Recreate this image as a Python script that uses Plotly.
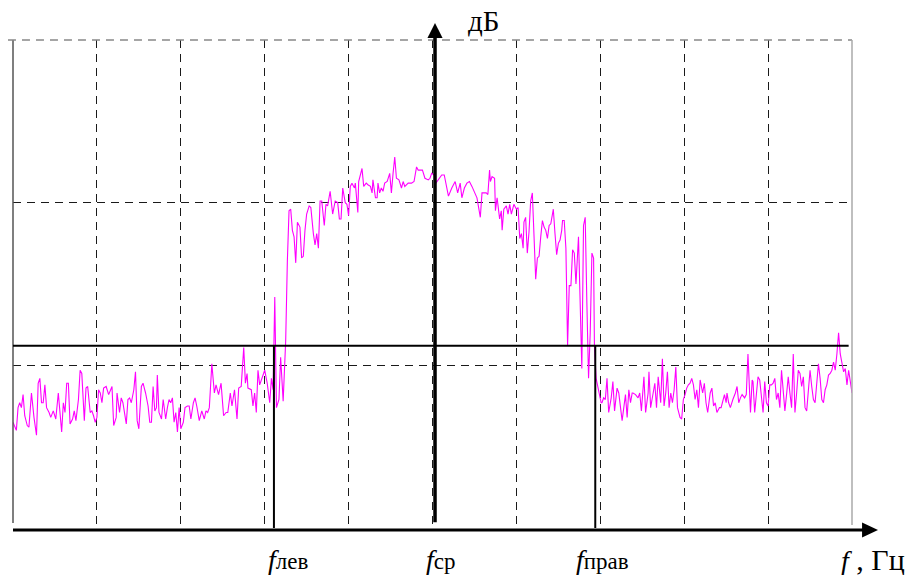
import plotly.graph_objects as go

# ---- data (frequency in Hz, level in dB) ----
freq_hz = [0, 4, 6, 8, 10, 12, 14, 17, 19, 22, 25, 28, 30, 32, 34, 36, 38, 40, 43, 45, 48, 51, 54, 58, 60, 62, 64, 66, 68, 71, 73, 75, 78, 80, 82, 85, 87, 89, 92, 94, 96, 98, 100, 102, 104, 106, 108, 111, 114, 118, 120, 123, 124, 127, 129, 131, 135, 137, 139, 141, 144, 146, 148, 150,
           153, 155, 158, 161, 163, 165, 167, 169, 171, 172, 174, 177, 179, 182, 184, 186, 188, 190, 192, 194, 196, 198, 200, 203, 205, 208, 210, 212, 215, 217, 219, 222, 225, 228, 230, 232, 234, 237, 240, 242, 245, 248, 251, 254, 256, 259, 261, 264, 267, 269, 272, 275, 277, 279, 280, 284, 286, 288, 290, 292, 294, 298, 300, 303, 306, 308, 310, 312, 314, 317, 319, 322, 325, 327, 329,
           331, 333, 335, 337, 339, 342, 344, 346, 348, 350, 353, 355, 358, 360, 362, 364, 366, 368, 371, 373, 375, 378, 381, 384, 387, 389, 391, 393, 396, 398, 400, 402, 404, 407, 408, 411, 412, 416, 418, 421, 423, 426, 428, 429, 432, 434, 435, 437, 439, 441, 443, 446, 449, 451, 453, 455, 457, 460, 463, 465, 467, 471, 475, 478, 481, 483, 488, 491, 495, 497, 499, 502, 504, 507, 511, 514, 516, 519, 523, 527, 530, 533, 535, 538, 541, 544, 547, 550, 553, 557, 559, 561, 564, 566, 568, 569, 571, 574, 575, 577, 580, 582, 583, 585, 588, 590, 592, 594, 597, 600, 602, 604, 606, 608, 609, 611, 613, 615, 617, 619, 621, 623, 625, 627, 629, 631, 633, 635, 637, 639, 641, 644, 646, 648, 650, 652, 654, 655, 657, 659, 661, 663, 665, 667, 669, 671, 674, 676, 678, 680, 682, 684, 686, 688, 690, 692, 693, 695, 698, 701, 702, 704, 706, 708, 710, 713, 715, 717, 720, 722, 726, 728, 730, 732, 734, 736, 738, 739, 742, 745, 747, 749, 752, 754, 757, 758, 760, 763, 765, 767, 769, 772, 774, 776, 778, 780, 782, 784, 786, 788, 790, 792, 795, 797, 799, 801, 803, 805, 807, 809, 811, 813, 815, 817, 819, 822, 824, 826, 828, 831, 833, 835, 837, 839, 842, 844, 848, 850, 851, 853, 855, 858, 861, 863, 865, 867, 869, 872, 874, 876, 879, 881, 882, 884, 886, 888, 890, 892, 894, 896, 898, 900, 902, 904, 906, 908, 910, 912, 914, 916, 918, 920, 922, 924, 926, 928, 930, 932, 934, 936, 938, 940, 942, 944, 946, 948, 950, 952, 954, 956, 958, 960, 962, 964, 966, 968, 970, 972, 974, 976, 978, 980, 982, 984, 986, 988, 990, 992, 994, 996, 998, 1000]
level_db = [6.5, 6.0, 7.4, 7.7, 7.4, 8.2, 6.9, 6.3, 6.2, 8.3, 6.8, 5.7, 8.9, 9.2, 7.7, 7.7, 8.8, 7.4, 7.1, 6.8, 7.2, 6.7, 8.3, 5.9, 7.7, 7.1, 8.9, 8.9, 6.4, 6.7, 7.2, 6.6, 7.9, 9.7, 9.5, 6.6, 8.6, 8.7, 7.1, 7.2, 6.9, 6.5, 6.8, 8.5, 8.3, 7.7, 8.6, 8.7, 8.2, 8.7, 6.3, 6.8, 8.3, 7.1, 8.0, 7.7, 6.4, 7.9, 8.0, 7.7, 8.5, 9.6, 6.6, 6.1,
            8.7, 8.9, 8.3, 7.5, 6.5, 6.5, 8.7, 7.2, 7.4, 9.4, 7.1, 6.7, 7.9, 6.7, 7.4, 7.9, 7.7, 8.0, 6.5, 7.1, 5.9, 7.4, 6.1, 6.5, 7.4, 7.5, 7.5, 6.7, 7.7, 8.0, 7.5, 6.6, 7.2, 6.7, 7.2, 7.1, 7.4, 10.1, 8.3, 8.8, 8.2, 8.9, 6.9, 7.1, 7.1, 8.3, 7.5, 8.5, 6.7, 8.6, 8.7, 11.1, 8.9, 9.5, 8.6, 8.5, 7.5, 8.3, 7.1, 9.7, 8.8, 9.5, 9.7, 8.9, 7.7, 9.2, 8.5, 14.2, 7.4, 7.9, 10.5, 7.8, 11.5, 16.4, 19.5,
            19.6, 18.3, 17.9, 16.3, 18.8, 18.5, 16.6, 16.7, 18.3, 19.3, 19.8, 19.7, 18.1, 17.4, 18.1, 17.2, 20.1, 20.1, 18.6, 19.9, 19.8, 20.7, 19.3, 20.1, 20.0, 19.0, 19.0, 20.9, 20.0, 19.9, 19.2, 21.0, 21.2, 20.9, 21.2, 19.4, 21.3, 22.1, 21.0, 21.2, 21.1, 21.0, 20.6, 21.4, 20.3, 20.3, 21.2, 20.6, 20.9, 20.7, 21.2, 21.3, 21.8, 20.6, 21.8, 22.8, 21.5, 21.4, 20.9, 21.3, 21.0, 21.2, 21.2, 21.3, 22.2, 22.0, 22.0, 21.5, 21.4, 21.5, 21.8, 21.7, 21.2, 21.4, 21.7, 21.7, 21.2, 20.4, 20.9, 21.3, 20.6, 21.2, 20.3, 20.9, 21.2, 21.3, 21.0, 20.7, 20.3, 19.1, 20.6, 20.6, 20.6, 20.5, 22.0, 21.3, 21.6, 21.5, 19.5, 20.3, 19.0, 19.5, 18.3, 19.6, 19.8, 19.3, 19.9, 19.3, 19.9, 19.6, 19.7, 17.8, 18.1, 17.2, 18.8, 19.1, 16.9, 18.2, 20.1, 20.6, 18.1, 15.3, 16.6, 16.7, 17.9, 18.9, 18.5, 18.3, 17.8, 18.6, 18.7, 19.6, 18.1, 16.8, 17.5, 17.7, 18.3, 18.9, 18.9, 17.2, 11.2, 14.9, 14.9, 17.1, 16.9, 15.0, 17.9, 14.2, 9.8, 18.6, 19.1, 13.8, 9.2, 12.0, 16.9, 16.6, 11.2, 9.2, 8.5, 7.7, 7.7, 8.0, 7.9, 9.2, 7.1, 8.0, 9.0, 7.2, 8.6, 8.3, 6.6, 7.5, 8.2, 6.8, 8.5, 7.7, 8.3, 8.3, 8.2, 8.0, 8.3, 7.2, 9.3, 7.1, 8.3, 9.6, 7.4, 8.3, 8.9, 7.4, 9.3, 7.7, 10.4, 7.5, 8.3, 9.6, 7.4, 8.3, 7.7, 8.5, 9.9, 7.4, 6.8, 6.7, 7.9, 8.2, 8.6, 8.8, 8.9, 9.2, 8.8, 7.9, 8.5, 7.4, 9.1, 8.3, 8.9, 7.7, 7.1, 8.3, 8.6, 7.5, 7.7, 7.1, 7.4, 7.4, 8.2, 7.7, 8.3, 7.7, 7.4, 7.9, 8.3, 8.7, 7.7, 8.0, 8.2, 8.0, 8.2, 10.7, 7.1, 9.1, 9.0, 7.1, 8.3, 9.3, 9.1, 7.9, 7.1, 9.0, 7.7, 7.5, 8.8, 8.8, 8.9, 9.2, 7.9, 8.3, 7.4, 9.7, 8.6, 7.2, 8.2, 9.3, 8.3, 7.4, 10.7, 7.1, 8.3, 9.7, 9.5, 8.7, 9.3, 7.4, 7.2, 8.3, 9.7, 8.7, 7.9, 7.7, 9.2, 10.1, 9.2, 7.9, 7.7, 8.5, 8.8, 9.4, 9.5, 9.7, 10.2, 9.7, 10.7, 12.0, 10.7, 10.0, 9.6, 9.8, 8.8, 9.7, 9.0, 8.3]

x_grid = [100, 200, 300, 400, 500, 600, 700, 800, 900]
y_grid = [10, 20]
x_max = 1000
y_max = 30
f_left = 311
f_mid = 503
f_right = 694
threshold_db = 11.2
threshold_end = 996

FONT = "Liberation Serif, Times New Roman, serif"

fig = go.Figure()
fig.add_trace(go.Scatter(x=freq_hz, y=level_db, mode="lines",
                         line=dict(color="#ff00ff", width=1.1), hoverinfo="skip"))

grid_style = dict(showticklabels=False, ticks="", showgrid=True, gridcolor="#1a1a1a",
                  gridwidth=1, griddash="8px,6px", zeroline=False, showline=False, fixedrange=True)
fig.update_layout(
    width=920, height=575,
    margin=dict(l=13, r=68, t=40, b=47),
    plot_bgcolor="white", paper_bgcolor="white", showlegend=False,
    xaxis=dict(range=[0, x_max], tickvals=x_grid, **grid_style),
    yaxis=dict(range=[0, y_max], tickvals=y_grid, **grid_style),
)

shapes = []
# frame
shapes.append(dict(type="line", xref="paper", yref="paper", x0=0, x1=0, y0=0.01, y1=1,
                   line=dict(color="#555555", width=1.5)))
shapes.append(dict(type="line", xref="paper", yref="paper", x0=-0.006, x1=1, y0=1, y1=1,
                   line=dict(color="#888888", width=1.5, dash="8px,6px")))
shapes.append(dict(type="line", xref="paper", yref="paper", x0=1, x1=1, y0=0.006, y1=1,
                   line=dict(color="#aaaaaa", width=1.5)))
# threshold level and cut-off frequencies
shapes.append(dict(type="line", xref="x", yref="y", x0=0, x1=threshold_end, y0=threshold_db, y1=threshold_db,
                   line=dict(color="black", width=2)))
for f in (f_left, f_right):
    shapes.append(dict(type="line", xref="x", yref="y", x0=f, x1=f, y0=0, y1=threshold_db,
                       line=dict(color="black", width=2)))
# axes with arrows
xm = f_mid / x_max
shapes.append(dict(type="line", xref="paper", yref="paper", x0=xm, x1=xm, y0=0.012, y1=1.006,
                   line=dict(color="black", width=3.5)))
shapes.append(dict(type="path", xref="paper", yref="paper",
                   path=f"M {xm-0.009},1.004 L {xm+0.009},1.004 L {xm},1.035 Z",
                   fillcolor="black", line=dict(color="black", width=0)))
shapes.append(dict(type="line", xref="paper", yref="paper", x0=0, x1=1.014, y0=-0.004, y1=-0.004,
                   line=dict(color="black", width=3)))
shapes.append(dict(type="path", xref="paper", yref="paper",
                   path="M 1.012,0.0114 L 1.012,-0.0194 L 1.031,-0.004 Z",
                   fillcolor="black", line=dict(color="black", width=0)))
fig.update_layout(shapes=shapes)

def sub_label(main, sub):
    return f"<i>{main}</i><span style='font-size:23px'>{sub}</span>"

annotations = [
    dict(x=f_left, y=0, xref="x", yref="y", text=sub_label("f", "лев"), xshift=-8, yshift=-31, xanchor="left"),
    dict(x=f_mid, y=0, xref="x", yref="y", text=sub_label("f", "ср"), xshift=-11, yshift=-31, xanchor="left"),
    dict(x=f_right, y=0, xref="x", yref="y", text=sub_label("f", "прав"), xshift=-21, yshift=-31, xanchor="left"),
    dict(x=x_max, y=0, xref="x", yref="y", text="<i>f</i><span style='font-size:30px'> , Гц</span>",
         xshift=-13, yshift=-31, xanchor="left"),
    dict(x=f_mid, y=y_max, xref="x", yref="y", text="дБ", xshift=31, yshift=19, xanchor="left",
         font_size=29),
]
for a in annotations:
    fs = a.pop("font_size", 28)
    a.update(showarrow=False, font=dict(family=FONT, size=fs, color="black"))
fig.update_layout(annotations=annotations)

fig.write_html("out.html", config={"displayModeBar": False},
               post_script="document.body.style.margin='0px';document.body.style.overflow='hidden';")
